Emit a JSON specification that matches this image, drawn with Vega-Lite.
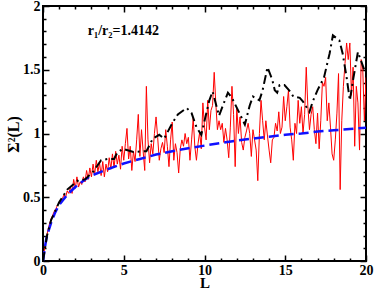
{
  "$schema": "https://vega.github.io/schema/vega-lite/v6.json",
  "width": 323,
  "height": 255,
  "autosize": "none",
  "padding": {"left": 43, "top": 6, "right": 8, "bottom": 28},
  "background": "white",
  "config": {
    "view": {"stroke": "black", "strokeWidth": 2},
    "font": "Liberation Serif",
    "axis": {
      "domain": false,
      "grid": false,
      "tickColor": "black",
      "tickWidth": 1.5,
      "labelFont": "Liberation Serif",
      "labelFontWeight": "bold",
      "labelFontSize": 14,
      "labelColor": "black",
      "titleFont": "Liberation Serif",
      "titleFontWeight": "bold",
      "titleFontSize": 16,
      "titleColor": "black"
    }
  },
  "datasets": {
    "red": [
      {"L":0.0,"S":0.00},{"L":0.1,"S":0.10},{"L":0.2,"S":0.18},{"L":0.3,"S":0.24},{"L":0.4,"S":0.29},
      {"L":0.5,"S":0.33},{"L":0.6,"S":0.36},{"L":0.7,"S":0.39},{"L":0.8,"S":0.41},{"L":0.9,"S":0.44},
      {"L":1.0,"S":0.45},{"L":1.1,"S":0.48},{"L":1.2,"S":0.49},{"L":1.3,"S":0.52},{"L":1.4,"S":0.50},
      {"L":1.5,"S":0.55},{"L":1.6,"S":0.53},{"L":1.7,"S":0.58},{"L":1.8,"S":0.53},{"L":1.9,"S":0.64},
      {"L":2.0,"S":0.57},{"L":2.1,"S":0.66},{"L":2.2,"S":0.58},{"L":2.3,"S":0.62},{"L":2.4,"S":0.60},
      {"L":2.5,"S":0.66},{"L":2.6,"S":0.62},{"L":2.7,"S":0.71},{"L":2.8,"S":0.64},{"L":2.9,"S":0.73},
      {"L":3.0,"S":0.66},{"L":3.1,"S":0.76},{"L":3.2,"S":0.68},{"L":3.3,"S":0.79},{"L":3.4,"S":0.70},
      {"L":3.5,"S":0.77},{"L":3.6,"S":0.67},{"L":3.7,"S":0.78},{"L":3.8,"S":0.66},{"L":3.9,"S":0.76},
      {"L":4.0,"S":0.70},{"L":4.1,"S":0.81},{"L":4.2,"S":0.72},{"L":4.3,"S":0.84},{"L":4.4,"S":0.73},
      {"L":4.5,"S":0.86},{"L":4.6,"S":0.76},{"L":4.7,"S":0.83},{"L":4.8,"S":0.72},{"L":4.9,"S":0.90},
      {"L":5.0,"S":0.79},{"L":5.1,"S":0.92},{"L":5.2,"S":1.04},{"L":5.3,"S":0.80},{"L":5.4,"S":0.90},
      {"L":5.5,"S":0.71},{"L":5.6,"S":0.86},{"L":5.7,"S":0.78},{"L":5.8,"S":0.95},{"L":5.9,"S":1.15},
      {"L":6.0,"S":0.82},{"L":6.1,"S":1.03},{"L":6.2,"S":0.86},{"L":6.3,"S":0.71},{"L":6.4,"S":1.37},
      {"L":6.5,"S":0.95},{"L":6.6,"S":0.77},{"L":6.7,"S":0.92},{"L":6.8,"S":0.84},{"L":6.9,"S":1.00},
      {"L":7.0,"S":1.13},{"L":7.1,"S":0.97},{"L":7.2,"S":0.79},{"L":7.3,"S":0.88},{"L":7.4,"S":0.93},
      {"L":7.5,"S":0.85},{"L":7.6,"S":1.03},{"L":7.7,"S":0.90},{"L":7.8,"S":0.74},{"L":7.9,"S":0.95},
      {"L":8.0,"S":1.09},{"L":8.1,"S":0.79},{"L":8.2,"S":0.92},{"L":8.3,"S":0.85},{"L":8.4,"S":0.69},
      {"L":8.5,"S":0.88},{"L":8.6,"S":0.95},{"L":8.7,"S":0.90},{"L":8.8,"S":1.00},{"L":8.9,"S":0.92},
      {"L":9.0,"S":0.97},{"L":9.1,"S":0.79},{"L":9.2,"S":0.95},{"L":9.3,"S":1.12},{"L":9.4,"S":0.90},
      {"L":9.5,"S":0.79},{"L":9.6,"S":0.92},{"L":9.7,"S":1.01},{"L":9.8,"S":0.88},{"L":9.9,"S":1.24},
      {"L":10.0,"S":1.05},{"L":10.1,"S":0.95},{"L":10.2,"S":1.26},{"L":10.3,"S":1.03},{"L":10.4,"S":1.18},
      {"L":10.5,"S":1.22},{"L":10.6,"S":1.48},{"L":10.7,"S":1.24},{"L":10.8,"S":1.03},{"L":10.9,"S":1.10},
      {"L":11.0,"S":1.03},{"L":11.1,"S":1.08},{"L":11.2,"S":0.93},{"L":11.3,"S":1.04},{"L":11.4,"S":0.95},
      {"L":11.5,"S":0.81},{"L":11.6,"S":1.05},{"L":11.7,"S":1.37},{"L":11.8,"S":1.15},{"L":11.9,"S":0.74},
      {"L":12.0,"S":1.20},{"L":12.1,"S":1.00},{"L":12.2,"S":1.13},{"L":12.3,"S":0.93},{"L":12.4,"S":0.87},
      {"L":12.5,"S":0.97},{"L":12.6,"S":1.02},{"L":12.7,"S":1.08},{"L":12.8,"S":1.00},{"L":12.9,"S":0.82},
      {"L":13.0,"S":1.03},{"L":13.1,"S":0.95},{"L":13.2,"S":0.87},{"L":13.3,"S":0.63},{"L":13.4,"S":1.00},
      {"L":13.5,"S":1.26},{"L":13.6,"S":1.10},{"L":13.7,"S":0.95},{"L":13.8,"S":1.10},{"L":13.9,"S":0.98},
      {"L":14.0,"S":0.87},{"L":14.1,"S":0.77},{"L":14.2,"S":0.95},{"L":14.3,"S":0.97},{"L":14.4,"S":1.08},
      {"L":14.5,"S":1.02},{"L":14.6,"S":1.17},{"L":14.7,"S":1.00},{"L":14.8,"S":1.05},{"L":14.9,"S":1.29},
      {"L":15.0,"S":1.10},{"L":15.1,"S":1.21},{"L":15.2,"S":1.34},{"L":15.3,"S":1.05},{"L":15.4,"S":0.95},
      {"L":15.5,"S":0.79},{"L":15.6,"S":1.08},{"L":15.7,"S":1.00},{"L":15.8,"S":1.26},{"L":15.9,"S":1.08},
      {"L":16.0,"S":1.21},{"L":16.1,"S":1.00},{"L":16.2,"S":1.15},{"L":16.3,"S":1.52},{"L":16.4,"S":1.21},
      {"L":16.5,"S":1.03},{"L":16.6,"S":1.15},{"L":16.7,"S":1.21},{"L":16.8,"S":1.03},{"L":16.9,"S":0.92},
      {"L":17.0,"S":1.16},{"L":17.1,"S":0.88},{"L":17.2,"S":1.10},{"L":17.3,"S":1.40},{"L":17.4,"S":1.37},
      {"L":17.5,"S":1.44},{"L":17.6,"S":1.10},{"L":17.7,"S":1.24},{"L":17.8,"S":1.05},{"L":17.9,"S":0.84},
      {"L":18.0,"S":0.79},{"L":18.1,"S":0.95},{"L":18.2,"S":1.16},{"L":18.3,"S":1.47},{"L":18.4,"S":0.56},
      {"L":18.5,"S":1.10},{"L":18.6,"S":1.37},{"L":18.7,"S":1.55},{"L":18.8,"S":1.71},{"L":18.9,"S":1.58},
      {"L":19.0,"S":1.71},{"L":19.1,"S":1.30},{"L":19.2,"S":1.52},{"L":19.3,"S":0.90},{"L":19.4,"S":1.37},
      {"L":19.5,"S":1.24},{"L":19.6,"S":0.87},{"L":19.7,"S":1.58},{"L":19.8,"S":1.50},{"L":19.9,"S":1.10},
      {"L":20.0,"S":1.44}
    ],
    "black": [
      {"L":0,"S":0},{"L":0.25,"S":0.2},{"L":0.5,"S":0.32},{"L":1.0,"S":0.46},{"L":1.5,"S":0.56},
      {"L":2.2,"S":0.635},{"L":2.6,"S":0.64},{"L":3.1,"S":0.70},{"L":3.6,"S":0.79},{"L":4.0,"S":0.80},
      {"L":4.4,"S":0.80},{"L":4.6,"S":0.85},{"L":4.95,"S":0.88},{"L":5.6,"S":0.855},{"L":6.1,"S":0.86},
      {"L":6.4,"S":0.86},{"L":6.8,"S":0.96},{"L":7.2,"S":0.99},{"L":7.5,"S":0.96},{"L":8.0,"S":1.08},
      {"L":8.35,"S":1.15},{"L":8.9,"S":1.2},{"L":9.2,"S":1.16},{"L":9.5,"S":1.05},{"L":9.8,"S":0.99},
      {"L":10.3,"S":1.26},{"L":10.5,"S":1.33},{"L":10.9,"S":1.14},{"L":11.2,"S":1.24},{"L":11.45,"S":1.32},
      {"L":11.7,"S":1.28},{"L":12.2,"S":1.15},{"L":12.5,"S":1.07},{"L":12.8,"S":1.22},{"L":13.0,"S":1.29},
      {"L":13.4,"S":1.26},{"L":13.6,"S":1.34},{"L":13.9,"S":1.52},{"L":14.2,"S":1.42},{"L":14.35,"S":1.34},
      {"L":14.5,"S":1.32},{"L":14.65,"S":1.38},{"L":14.95,"S":1.38},{"L":15.3,"S":1.33},{"L":15.5,"S":1.29},
      {"L":15.9,"S":1.28},{"L":16.1,"S":1.25},{"L":16.5,"S":1.17},{"L":16.7,"S":1.25},{"L":17.0,"S":1.34},
      {"L":17.4,"S":1.44},{"L":17.75,"S":1.63},{"L":17.95,"S":1.77},{"L":18.35,"S":1.73},{"L":18.55,"S":1.63},
      {"L":18.8,"S":1.44},{"L":19.0,"S":1.26},{"L":19.2,"S":1.42},{"L":19.5,"S":1.64},{"L":19.75,"S":1.55},
      {"L":19.95,"S":1.48}
    ],
    "blue": [
      {"L":0,"S":0},{"L":0.05,"S":0.045},{"L":0.1,"S":0.09},{"L":0.2,"S":0.17},{"L":0.3,"S":0.22},
      {"L":0.5,"S":0.30},{"L":0.75,"S":0.38},{"L":1,"S":0.44},{"L":1.5,"S":0.52},{"L":2,"S":0.58},
      {"L":2.5,"S":0.63},{"L":3,"S":0.67},{"L":4,"S":0.72},{"L":5,"S":0.765},{"L":6,"S":0.80},
      {"L":7,"S":0.835},{"L":8,"S":0.86},{"L":9,"S":0.885},{"L":10,"S":0.905},{"L":11,"S":0.925},
      {"L":12,"S":0.945},{"L":13,"S":0.96},{"L":14,"S":0.975},{"L":15,"S":0.99},{"L":16,"S":1.0},
      {"L":17,"S":1.015},{"L":18,"S":1.025},{"L":19,"S":1.035},{"L":20,"S":1.045}
    ],
    "note": [
      {"L":2.77,"S":1.77,"label":"r₁/r₂=1.4142"}
    ]
  },
  "layer": [
    {
      "data": {"name": "red"},
      "mark": {"type": "line", "color": "#ff0000", "strokeWidth": 1, "clip": true},
      "encoding": {
        "x": {"field": "L", "type": "quantitative",
              "scale": {"domain": [0, 20], "nice": false, "zero": false},
              "axis": {"orient": "bottom", "values": [0, 5, 10, 15, 20], "tickSize": -6, "labelPadding": 8,
                       "title": "L", "titleY": 26, "titleFontSize": 15, "titleBaseline": "alphabetic", "labelFlush": false}},
        "y": {"field": "S", "type": "quantitative",
              "scale": {"domain": [0, 2], "nice": false, "zero": false},
              "axis": {"orient": "left", "values": [0, 0.5, 1, 1.5, 2], "format": "~g", "tickSize": -6, "labelPadding": 9,
                       "title": "Σ²(L)", "titleX": -25, "titleY": 128, "titleAngle": -90,
                       "titleAlign": "center", "titleBaseline": "alphabetic", "labelFlush": false}}
      }
    },
    {
      "data": {"name": "blue"},
      "mark": {"type": "line", "color": "#1010ff", "strokeWidth": 2.5, "strokeDash": [10, 5], "clip": true},
      "encoding": {
        "x": {"field": "L", "type": "quantitative",
              "axis": {"orient": "bottom", "values": [1,2,3,4,6,7,8,9,11,12,13,14,16,17,18,19],
                       "tickSize": -3, "labels": false, "title": null}},
        "y": {"field": "S", "type": "quantitative",
              "axis": {"orient": "left", "values": [0.1,0.2,0.3,0.4,0.6,0.7,0.8,0.9,1.1,1.2,1.3,1.4,1.6,1.7,1.8,1.9],
                       "tickSize": -3, "labels": false, "title": null}}
      }
    },
    {
      "data": {"name": "black"},
      "mark": {"type": "line", "color": "black", "strokeWidth": 2, "strokeDash": [9, 4, 2, 4], "clip": true},
      "encoding": {
        "x": {"field": "L", "type": "quantitative",
              "axis": {"orient": "top", "values": [0, 5, 10, 15, 20], "tickSize": -6, "labels": false, "title": null}},
        "y": {"field": "S", "type": "quantitative",
              "axis": {"orient": "right", "values": [0, 0.5, 1, 1.5, 2], "tickSize": -6, "labels": false, "title": null}}
      }
    },
    {
      "data": {"name": "note"},
      "mark": {"type": "text", "align": "left", "baseline": "alphabetic", "font": "Liberation Serif",
               "fontWeight": "bold", "fontSize": 14, "color": "black"},
      "encoding": {
        "x": {"field": "L", "type": "quantitative",
              "axis": {"orient": "top", "values": [1,2,3,4,6,7,8,9,11,12,13,14,16,17,18,19],
                       "tickSize": -3, "labels": false, "title": null}},
        "y": {"field": "S", "type": "quantitative",
              "axis": {"orient": "right", "values": [0.1,0.2,0.3,0.4,0.6,0.7,0.8,0.9,1.1,1.2,1.3,1.4,1.6,1.7,1.8,1.9],
                       "tickSize": -3, "labels": false, "title": null}},
        "text": {"field": "label"}
      }
    }
  ],
  "resolve": {"axis": {"x": "independent", "y": "independent"}}
}
